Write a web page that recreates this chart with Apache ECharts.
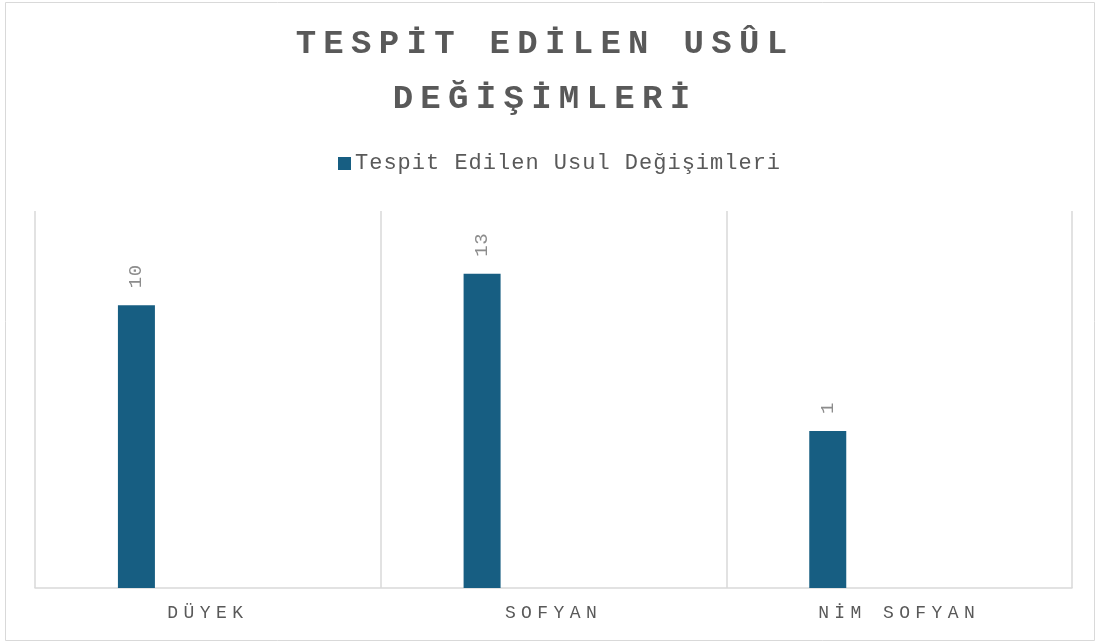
<!DOCTYPE html>
<html>
<head>
<meta charset="utf-8">
<script src="https://cdn.jsdelivr.net/npm/echarts@6/dist/echarts.min.js"></script>
<style>
html,body{margin:0;padding:0;background:#fff;}
#chart{width:1096px;height:643px;}
</style>
</head>
<body>
<div id="chart"></div>
<script>
// ---- data ----
const titleLines = ['TESPİT EDİLEN USÛL', 'DEĞİŞİMLERİ'];
const seriesName = 'Tespit Edilen Usul Değişimleri';
const categories = ['DÜYEK', 'SOFYAN', 'NİM SOFYAN'];
// bar heights as plotted (0–24 value scale)
const values = [18, 20, 10];
// data label texts as printed on the bars
const labelTexts = ['10', '13', '1'];
const valueMin = 0;
const valueMax = 24;

// letter spacing per font size (emulates the reference's spaced typography)
const spacingBySize = {34: '7.3px', 18: '5.4px', 22: '1.0px', 19: '0.6px'};
(function () {
  const proto = CanvasRenderingContext2D.prototype;
  const desc = Object.getOwnPropertyDescriptor(proto, 'font');
  if (!desc || !('letterSpacing' in proto)) return;
  Object.defineProperty(proto, 'font', {
    configurable: true,
    get() { return desc.get.call(this); },
    set(v) {
      desc.set.call(this, v);
      const m = /(\d+(?:\.\d+)?)px/.exec(v || '');
      const sp = m && spacingBySize[Math.round(parseFloat(m[1]))];
      this.letterSpacing = sp || '0px';
    }
  });
})();

const FONT = "'Liberation Mono', 'DejaVu Sans Mono', monospace";
const chart = echarts.init(document.getElementById('chart'), null, {renderer: 'canvas'});
chart.setOption({
  animation: false,
  backgroundColor: '#ffffff',
  graphic: [
    {type: 'rect', shape: {x: 5.5, y: 2.5, width: 1089, height: 638}, style: {fill: 'none', stroke: '#d9d9d9', lineWidth: 1}, silent: true},
    {type: 'text', x: 545, y: 17, style: {text: titleLines.join('\n'), font: "bold 34px " + FONT, fill: '#595959', align: 'center', verticalAlign: 'top', lineHeight: 55}}
  ],
  legend: {
    data: [seriesName],
    left: 333, top: 147,
    icon: 'rect', itemWidth: 13, itemHeight: 13, itemGap: 10,
    textStyle: {fontFamily: FONT, fontSize: 22, color: '#595959', padding: [0, 0, 0, -1]}
  },
  grid: {left: 35, right: 24, top: 211, bottom: 55, containLabel: false},
  xAxis: {
    type: 'category',
    data: categories,
    axisLine: {show: true, lineStyle: {color: '#d9d9d9', width: 1.5}},
    axisTick: {show: false},
    splitLine: {show: true, lineStyle: {color: '#d9d9d9', width: 1.5}},
    axisLabel: {fontFamily: FONT, fontSize: 18, color: '#595959', margin: 14}
  },
  yAxis: {
    type: 'value', min: valueMin, max: valueMax, show: false,
    splitLine: {show: false}
  },
  series: [
    {
      name: seriesName, type: 'bar', data: values, barWidth: 37, barGap: '286%',
      itemStyle: {color: '#175e82'},
      label: {show: true, position: 'top', rotate: 90, distance: 17, align: 'left', verticalAlign: 'middle',
        fontFamily: FONT, fontSize: 19, color: '#8c8c8c',
        formatter: (p) => labelTexts[p.dataIndex]}
    },
    {name: 'spacer', type: 'bar', data: values.map(() => null), barWidth: 37}
  ]
});
</script>
</body>
</html>
